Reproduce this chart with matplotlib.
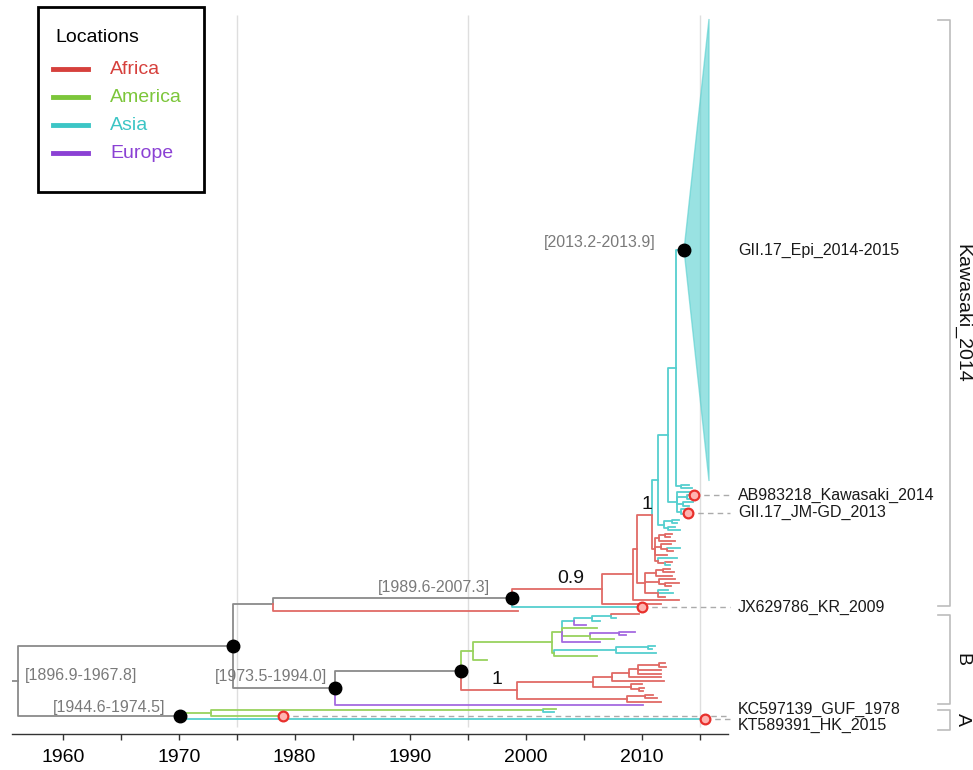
import matplotlib
matplotlib.use('Agg')
import matplotlib.pyplot as plt
from matplotlib.patches import Polygon, Rectangle
from matplotlib.lines import Line2D

plt.rcParams['font.family'] = ['Liberation Sans', 'DejaVu Sans']

W, H = 973, 770

# --- locations ---------------------------------------------------------------
LOCATIONS = ['Africa', 'America', 'Asia', 'Europe']
LEGEND_COLORS = ['#d6403c', '#7cc63a', '#3cc5c5', '#8b41d4']
BRANCH_COLORS = ['#e06a66', '#98d25e', '#55cfcf', '#a56ae0']
AF, AM, AS, EU, NA = 'Africa', 'America', 'Asia', 'Europe', None


def T(t, loc, name=None, mark=False):
    return {'t': t, 'loc': loc, 'kids': [], 'name': name, 'mark': mark}


def N(t, loc, *kids, dot=False, ci=None, support=None):
    return {'t': t, 'loc': loc, 'kids': list(kids), 'dot': dot, 'ci': ci,
            'support': support}


# --- tree (node times in years) ----------------------------------------------
epi_clade = {'t': 2013.65, 'loc': AS, 'kids': [], 'collapse': 133, 'tip_t': 2015.81,
             'name': 'GII.17_Epi_2014-2015', 'dot': True, 'ci': '[2013.2-2013.9]'}

asia_p = N(2012.96, AS, epi_clade, N(2013.4, AS, T(2014.1, AS), T(2014.3, AS)))
asia_r = N(2013.0, AS,
           T(2014.2, AS),
           N(2013.9, AS, T(2014.5, AS, 'AB983218_Kawasaki_2014', True), T(2014.3, AS)),
           N(2013.6, AS, T(2014.4, AS), T(2014.1, AS)),
           N(2013.4, AS, T(2013.9, AS),
             N(2013.7, AS, T(2013.98, AS, 'GII.17_JM-GD_2013', True), T(2014.2, AS))))
asia_s = N(2011.9, AS, N(2012.6, AS, T(2013.2, AS), T(2013.0, AS)),
           N(2012.3, AS, T(2012.9, AS), T(2013.3, AS)))
asia_clade = N(2011.4, AS, N(2012.3, AS, asia_p, asia_r), asia_s)

africa_c1 = N(2011.1, AF,
              N(2011.5, AF, N(2012.0, AF, T(2012.6, AF), T(2012.4, AF)), T(2012.9, AF)),
              N(2011.7, AF, T(2012.5, AF), N(2012.2, AF, T(2013.3, AS), T(2012.7, AF))),
              T(2012.2, AF),
              N(2011.4, AF, T(2013.0, AS), N(2012.0, AF, T(2012.6, AF), T(2012.4, AS))))
africa_c2 = N(2010.3, AF,
              N(2011.2, AF, N(2011.8, AF, T(2012.4, AF), T(2012.8, AF)), T(2012.6, AF)),
              N(2011.5, AF, T(2012.9, AF), N(2012.0, AF, T(2013.2, AF), T(2012.5, AF))),
              N(2011.4, AF, T(2012.3, AS), T(2012.7, AS), T(2012.0, AF)))

kawasaki = N(1998.78, NA,
             N(2006.56, AF,
               N(2009.2, AF,
                 N(2009.6, AF, N(2010.9, AF, asia_clade, africa_c1, support='1'), africa_c2),
                 T(2013.2, AF)),
               T(2011.7, AF), support='0.9'),
             T(2010.02, AS, 'JX629786_KR_2009', True),
             dot=True, ci='[1989.6-2007.3]')

b_upper = N(2003.1, AM,
            N(2004.1, AS,
              N(2005.7, AS, N(2007.3, AS, T(2009.8, AF), T(2007.8, AS)), T(2006.4, AS)),
              T(2005.2, EU)),
            T(2006.1, AM),
            N(2005.5, AM, N(2008.0, EU, T(2009.4, EU), T(2008.6, EU)), T(2007.6, AM)),
            T(2006.4, EU))
b_america = N(1995.4, AM,
              N(2002.2, AM, b_upper,
                N(2002.4, AM,
                  N(2007.8, AS, N(2010.5, AS, T(2011.1, AS), T(2010.9, AS)), T(2011.2, AS)),
                  T(2006.1, AM))),
              T(1996.6, AM))
b_africa = N(1999.2, AF,
             N(2005.8, AF,
               N(2007.4, AF,
                 N(2008.9, AF,
                   N(2009.7, AF, N(2011.5, AF, T(2012.0, AF), T(2012.1, AF)),
                     T(2011.7, AF), T(2011.7, AF)),
                   T(2011.7, AF)),
                 T(2011.9, AF)),
               N(2009.1, AF, T(2010.0, AF), N(2009.8, AF, T(2010.2, AF), T(2010.1, AF)))),
             N(2008.7, AF, N(2010.3, AF, T(2011.0, AF), T(2011.3, AF)), T(2011.7, AF)),
             support='1')
clade_b = N(1983.47, NA, N(1994.37, NA, b_america, b_africa, dot=True),
            T(2010.1, EU), dot=True, ci='[1973.5-1994.0]')

clade_a = N(1970.07, NA,
            N(1972.77, AM, N(2001.5, AM, T(2002.6, AM), T(2002.4, AS)),
              T(1978.99, AM, 'KC597139_GUF_1978', True)),
            T(2015.46, AS, 'KT589391_HK_2015', True),
            dot=True, ci='[1944.6-1974.5]')

root = N(1956.08, NA,
         N(1974.67, NA, N(1978.12, NA, kawasaki, T(1999.3, AF)), clade_b, dot=True),
         clade_a, ci='[1896.9-1967.8]')

CLADE_NAMES = ['Kawasaki_2014', 'B', 'A']
CLADE_NODES = [kawasaki, clade_b, clade_a]

# --- style ---------------------------------------------------------------------
FIRST_ROW, ROW_STEP = 19.0, 3.5
GRAY = '#8a8a8a'
branch_color = dict(zip(LOCATIONS, BRANCH_COLORS))
CI_OFFSET = {'[2013.2-2013.9]': (-28, 8), '[1989.6-2007.3]': (-22, 10),
             '[1973.5-1994.0]': (-8, 11), '[1944.6-1974.5]': (-14, 8)}


def layout(node, slot=0):
    if not node['kids']:
        n = node.get('collapse', 1)
        node['y0'] = FIRST_ROW + slot * ROW_STEP
        node['y1'] = FIRST_ROW + (slot + n - 1) * ROW_STEP
        node['y'] = (node['y0'] + node['y1']) / 2
        return slot + n
    for k in node['kids']:
        slot = layout(k, slot)
    node['y'] = (node['kids'][0]['y'] + node['kids'][-1]['y']) / 2
    return slot


def leaves(node):
    if not node['kids']:
        return [node]
    out = []
    for k in node['kids']:
        out += leaves(k)
    return out


layout(root)

fig = plt.figure(figsize=(W / 100, H / 100), dpi=100)
ax = fig.add_axes([12 / W, 36 / H, 716 / W, 722 / H])
ax.set_xlim(1955.57, 2017.45)
ax.set_ylim(734, 12)

ax.vlines([1975, 1995, 2015], 15, 727, color='#dedede', lw=1, zorder=0)


def draw(node):
    for k in node['kids']:
        c = branch_color.get(k['loc'], GRAY)
        ax.plot([node['t'], node['t'], k['t']], [node['y'], k['y'], k['y']],
                color=c, lw=1.3, zorder=2)
        if k.get('support'):
            xm = node['t'] + 0.65 * (k['t'] - node['t'])
            ax.annotate(k['support'], (xm, k['y']), xytext=(0, 2),
                        textcoords='offset pixels', ha='center', va='bottom',
                        fontsize=14, color='#111111')
        draw(k)
    if node.get('collapse'):
        c = branch_color[node['loc']]
        ax.add_patch(Polygon([(node['t'], node['y']), (node['tip_t'], node['y0']),
                              (node['tip_t'], node['y1'])], closed=True,
                             facecolor=c, alpha=0.6, edgecolor=c, lw=1, zorder=2))
    if node.get('dot'):
        ax.plot(node['t'], node['y'], 'o', color='black', ms=9, zorder=5)
    if node.get('ci'):
        if node is root:
            ax.annotate(node['ci'], (node['t'], node['y']), xytext=(7, 5),
                        textcoords='offset pixels', ha='left', va='center',
                        fontsize=11.5, color='#7a7a7a')
        else:
            ax.annotate(node['ci'], (node['t'], node['y']),
                        xytext=CI_OFFSET.get(node['ci'], (-16, 9)),
                        textcoords='offset pixels', ha='right', va='center',
                        fontsize=11.5, color='#7a7a7a')


# root stub
ax.plot([root['t'] - 0.5, root['t']], [root['y'], root['y']], color=GRAY, lw=1.3)
draw(root)

# tip labels, repelled apart where they crowd
named = [lf for lf in leaves(root) if lf.get('name')]
named.sort(key=lambda lf: lf['y'])
label_y = [lf['y'] for lf in named]
gap = 16
for _ in range(50):
    for i in range(1, len(label_y)):
        d = label_y[i] - label_y[i - 1]
        if d < gap:
            label_y[i - 1] -= (gap - d) / 2
            label_y[i] += (gap - d) / 2
for lf, ly in zip(named, label_y):
    lf['label_y'] = ly
    if lf.get('mark'):
        ax.plot([lf['t'], 2017.6], [lf['y'], lf['y']], ls=(0, (4, 3)),
                color='#ababab', lw=1, clip_on=False, zorder=1)
        ax.plot(lf['t'], lf['y'], 'o', ms=7, mfc='#ffb3b0', mec='#e8302c',
                mew=1.6, zorder=6, clip_on=False)
    ax.text(2018.3, ly, lf['name'], ha='left', va='center', fontsize=11.5,
            color='#1a1a1a', clip_on=False)

# clade brackets
for name, node in zip(CLADE_NAMES, CLADE_NODES):
    lv = leaves(node)
    top = min(lf['y0'] for lf in lv) + 1
    bottom = max(max(lf['y1'], lf['label_y'] + 6 if 'label_y' in lf and
                     abs(lf['label_y'] - lf['y']) > 0.5 else lf['y1']) for lf in lv) - 1
    ax.plot([2035.6, 2036.66, 2036.66, 2035.6], [top, top, bottom, bottom],
            color='#bcbcbc', lw=1.2, clip_on=False)
    ax.text(2037.7, (top + bottom) / 2, name, rotation=270, ha='center',
            va='center', fontsize=14, color='#111111', clip_on=False)

# axis
ticks = list(range(1960, 2016, 5))
ax.set_xticks(ticks)
ax.set_xticklabels([str(t) if t % 10 == 0 else '' for t in ticks])
ax.tick_params(axis='x', length=4, width=1, labelsize=14, pad=7, color='#333333')
ax.set_yticks([])
for side in ['left', 'top', 'right']:
    ax.spines[side].set_visible(False)
ax.spines['bottom'].set_color('#333333')
ax.spines['bottom'].set_linewidth(1)


# legend drawn in figure pixels
def fx(x):
    return x / W


def fy(y):
    return 1 - y / H


fig.patches.append(Rectangle((fx(38), fy(192)), fx(204) - fx(38), fy(7) - fy(192),
                             transform=fig.transFigure, fill=False,
                             edgecolor='black', lw=2, zorder=10))
fig.text(fx(55), fy(37), 'Locations', ha='left', va='center', fontsize=14)
for i, (loc, c) in enumerate(zip(LOCATIONS, LEGEND_COLORS)):
    yy = 69 + 28 * i
    fig.add_artist(Line2D([fx(53), fx(88)], [fy(yy), fy(yy)], color=c, lw=3.5,
                          transform=fig.transFigure))
    fig.text(fx(110), fy(yy), loc, ha='left', va='center', fontsize=14, color=c)

fig.savefig('out.png', dpi=100)
